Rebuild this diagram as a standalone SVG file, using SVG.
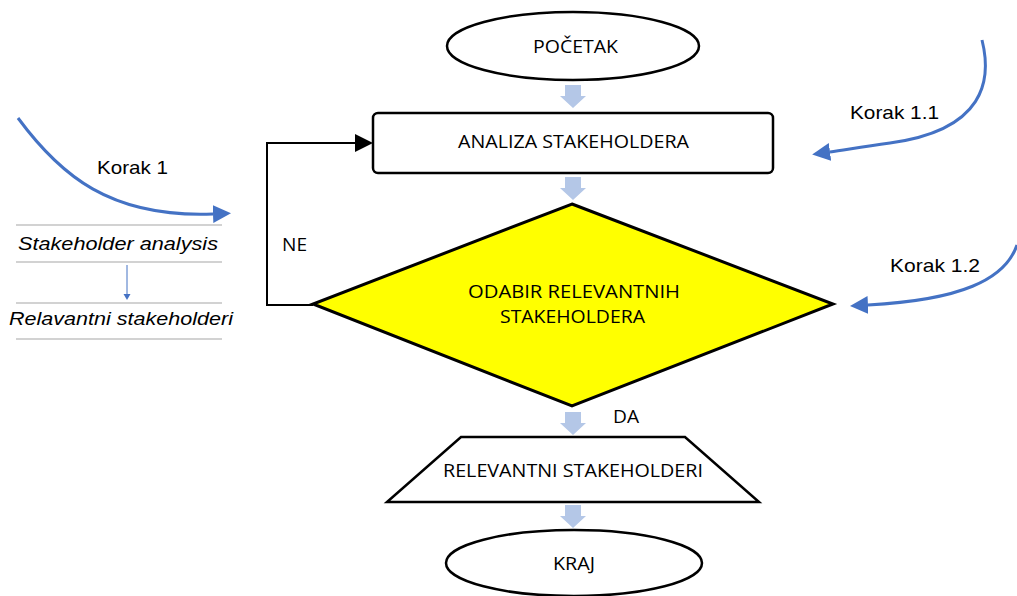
<svg xmlns="http://www.w3.org/2000/svg" width="1017" height="596" viewBox="0 0 1017 596">
  <style>
    .lbl { font-family: "Liberation Sans", Arial, sans-serif; font-size: 19px; fill: #000; }
    .node-text { font-family: "Open Sans", "Liberation Sans", sans-serif; font-size: 18.5px; fill: #000; }
    .side { font-family: "Liberation Sans", Arial, sans-serif; font-size: 19px; font-style: italic; fill: #000; }
    .outline { fill: #fff; stroke: #000; stroke-width: 2.5; }
    .flow { fill: #b4c7e7; }
    .rule { stroke: #a6a6a6; stroke-width: 1.2; }
    .step { fill: none; stroke: #4472c4; stroke-width: 3; }
  </style>
  <defs>
    <marker id="blueHead" viewBox="0 0 10 10" refX="0" refY="5" markerWidth="6" markerHeight="6" markerUnits="strokeWidth" orient="auto">
      <path d="M0,0 L10,5 L0,10 z" fill="#4472c4"/>
    </marker>
    <marker id="blackHead" viewBox="0 0 10 10" refX="0" refY="5" markerWidth="9" markerHeight="9" markerUnits="strokeWidth" orient="auto">
      <path d="M0,0 L10,5 L0,10 z" fill="#000"/>
    </marker>
    <path id="blockArrow" d="M-8,0 H8 V11 H13 L0,23 L-13,11 H-8 z"/>
  </defs>

  <rect width="1017" height="596" fill="#fff"/>

  <!-- flow connectors -->
  <g id="connectors">
    <use href="#blockArrow" class="flow" x="573" y="85"/>
    <use href="#blockArrow" class="flow" x="573" y="177"/>
    <use href="#blockArrow" class="flow" x="573" y="412"/>
    <use href="#blockArrow" class="flow" x="573" y="505"/>
    <!-- NE loop back -->
    <path d="M313,305 H267 V143 H355" fill="none" stroke="#000" stroke-width="2" marker-end="url(#blackHead)"/>
    <text class="node-text" x="282" y="251" textLength="25" lengthAdjust="spacingAndGlyphs">NE</text>
    <text class="node-text" x="613" y="423" textLength="26" lengthAdjust="spacingAndGlyphs">DA</text>
  </g>

  <g id="start">
    <ellipse class="outline" cx="573" cy="46" rx="126" ry="34"/>
    <text class="node-text" x="533" y="53" textLength="85" lengthAdjust="spacingAndGlyphs">POČETAK</text>
  </g>

  <g id="analysis">
    <rect class="outline" x="373" y="113" width="400" height="60" rx="5" stroke-width="3"/>
    <text class="node-text" x="458" y="148" textLength="231" lengthAdjust="spacingAndGlyphs">ANALIZA STAKEHOLDERA</text>
  </g>

  <g id="decision">
    <polygon points="572,204 833,304 572,406 313,304" fill="#ffff00" stroke="#000" stroke-width="3"/>
    <text class="node-text" x="468" y="298" textLength="212" lengthAdjust="spacingAndGlyphs">ODABIR RELEVANTNIH</text>
    <text class="node-text" x="500" y="323" textLength="145" lengthAdjust="spacingAndGlyphs">STAKEHOLDERA</text>
  </g>

  <g id="output">
    <polygon class="outline" points="461,437 685,437 759,502 387,502"/>
    <text class="node-text" x="443" y="477" textLength="260" lengthAdjust="spacingAndGlyphs">RELEVANTNI STAKEHOLDERI</text>
  </g>

  <g id="end">
    <ellipse class="outline" cx="574" cy="563" rx="128" ry="33"/>
    <text class="node-text" x="553" y="570" textLength="42" lengthAdjust="spacingAndGlyphs">KRAJ</text>
  </g>

  <!-- step annotations -->
  <g id="step1">
    <path class="step" d="M18,118 C60,175 110,218 213,214" marker-end="url(#blueHead)"/>
    <text class="lbl" x="97" y="174" textLength="71" lengthAdjust="spacingAndGlyphs">Korak 1</text>
    <line class="rule" x1="16" y1="225" x2="222" y2="225"/>
    <text class="side" x="18" y="250" textLength="200" lengthAdjust="spacingAndGlyphs">Stakeholder analysis</text>
    <line class="rule" x1="16" y1="262" x2="222" y2="262"/>
    <line x1="127" y1="265" x2="127" y2="295" stroke="#4472c4" stroke-width="1"/>
    <path d="M123.5,294 L130.5,294 L127,300 z" fill="#4472c4"/>
    <line class="rule" x1="16" y1="303" x2="222" y2="303"/>
    <text class="side" x="9" y="325" textLength="224" lengthAdjust="spacingAndGlyphs">Relavantni stakeholderi</text>
    <line class="rule" x1="16" y1="339" x2="222" y2="339"/>
  </g>

  <g id="step11">
    <path class="step" d="M982,40 C992,80 985,130 890,143 C860,147 845,150 830,152" marker-end="url(#blueHead)"/>
    <text class="lbl" x="850" y="119" textLength="89" lengthAdjust="spacingAndGlyphs">Korak 1.1</text>
  </g>

  <g id="step12">
    <path class="step" d="M1017,245 C1005,280 960,300 868,305" marker-end="url(#blueHead)"/>
    <text class="lbl" x="890" y="272" textLength="90" lengthAdjust="spacingAndGlyphs">Korak 1.2</text>
  </g>
</svg>
